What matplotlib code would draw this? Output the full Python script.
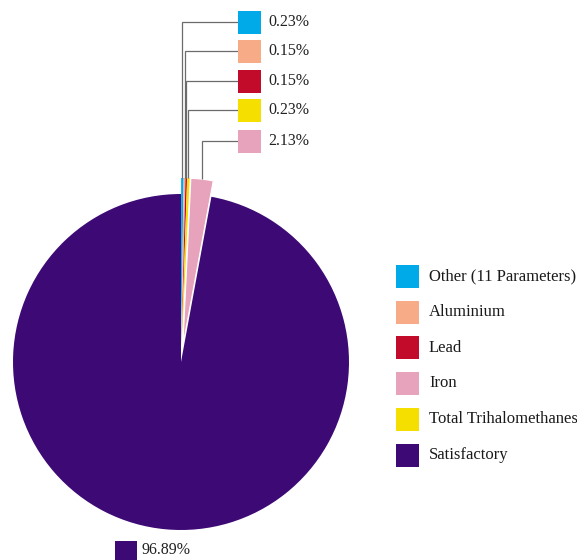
import numpy as np
import matplotlib
matplotlib.use("Agg")
import matplotlib.pyplot as plt
from matplotlib.patches import Rectangle

# ===============================
# Data
# ===============================
labels = ["Other (11 Parameters)", "Aluminium", "Lead", "Total Trihalomethanes", "Iron", "Satisfactory"]
shares = [0.23, 0.15, 0.15, 0.23, 2.13, 96.89]
colors = ["#00A9E8", "#F7AB86", "#C20B2A", "#F5DF00", "#E8A3BC", "#3D0A75"]
legend_order = ["Other (11 Parameters)", "Aluminium", "Lead", "Iron", "Total Trihalomethanes", "Satisfactory"]

plt.rcParams["font.family"] = ["Liberation Serif", "DejaVu Serif"]

W, H = 577, 560
fig = plt.figure(figsize=(W / 100, H / 100), dpi=100)
ax = fig.add_axes([0, 0, 1, 1])

# pixel helper: y measured from top
def py(y):
    return H - y

cx, cy, R = 181, py(362), 168
# explode is in data units (pixels here)
explode = [16, 16, 16, 16, 16, 0]

wedges, _ = ax.pie(shares, colors=colors, startangle=90, counterclock=False,
                   center=(cx, cy), radius=R, explode=explode,
                   wedgeprops=dict(linewidth=0))
wedges[4].set_edgecolor("white")
wedges[4].set_linewidth(0.8)

# pie() resets the limits, so set them afterwards
ax.set_xlim(0, W)
ax.set_ylim(0, H)
ax.set_aspect("equal")
ax.axis("off")

# ===============================
# Callout labels for small slices
# ===============================
label_y = [22, 51, 81, 110, 141]
box_x, box_w = 238, 23
for i, w in enumerate(wedges[:5]):
    mid = np.deg2rad((w.theta1 + w.theta2) / 2)
    x0 = w.center[0] + w.r * np.cos(mid)
    y0 = w.center[1] + w.r * np.sin(mid)
    ly = py(label_y[i])
    ax.plot([x0, x0, box_x], [y0, ly, ly], color="#6b6b6b", lw=0.9,
            solid_capstyle="butt", solid_joinstyle="miter", zorder=1)
    ax.add_patch(Rectangle((box_x, ly - box_w / 2), box_w, box_w,
                           facecolor=colors[i], edgecolor="none", zorder=2))
    ax.text(box_x + 30, ly, f"{shares[i]:.2f}%", fontsize=11.5,
            va="center", ha="left", color="#222222")

# big slice label
ax.add_patch(Rectangle((115, py(563)), 22, 22, facecolor=colors[5], edgecolor="none"))
ax.text(142, py(550), f"{shares[5]:.2f}%", fontsize=11.5, va="center", ha="left",
        color="#222222")

# ===============================
# Legend
# ===============================
leg_y = [276.5, 312, 347.5, 383, 419, 455]
for name, y in zip(legend_order, leg_y):
    c = colors[labels.index(name)]
    ax.add_patch(Rectangle((396, py(y) - 11.5), 23, 23, facecolor=c, edgecolor="none"))
    ax.text(429, py(y), name, fontsize=12, va="center", ha="left", color="#1a1a1a")

fig.savefig("out.png", dpi=100)
